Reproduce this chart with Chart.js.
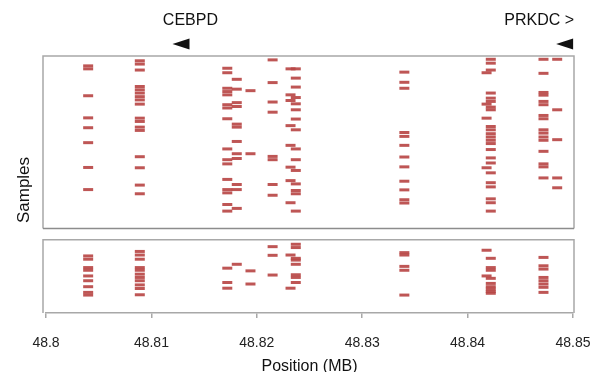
<!DOCTYPE html>
<html>
<head>
<meta charset="utf-8">
<style>
  html, body { margin: 0; padding: 0; background: #fff; }
</style>
</head>
<body>
<canvas id="samplesChart" width="598" height="372"></canvas>
<script src="https://cdn.jsdelivr.net/npm/chart.js"></script>
<script>
// genomic positions (MB) of the columns of marks
var positions = [48.8040, 48.8089, 48.8172, 48.8181, 48.8194, 48.8215, 48.8237, 48.8232, 48.8340, 48.8422, 48.8418, 48.8472, 48.8485];

// sample rows hit at each position, upper panel
var upperSamples = [
    [3.3, 4.3, 13.3, 20.7, 24, 29, 37.3, 44.7],
    [1.6, 2.7, 4.7, 10.2, 11.3, 12.4, 13.6, 14.7, 16.1, 20.8, 21.9, 23.8, 24.9, 33.7, 37.4, 43.2, 46.1],
    [4.1, 5.6, 10.8, 11.9, 13, 16.3, 17.4, 21, 31.1, 34.7, 36.1, 41.3, 44.7, 45.8, 49.7, 51.9],
    [7.8, 11.1, 15.6, 16.9, 22.8, 23.8, 28.6, 32.7, 34.3, 43, 44.7, 51],
    [11.6, 32.7],
    [1.3, 8.9, 15.4, 18.8, 33.6, 34.7, 43, 46.6],
    [4.3, 7.4, 10.4, 13.9, 16, 18, 21.1, 24.7, 31.1, 34.7, 38.3, 42.8, 45, 46.1, 51.9],
    [4.3, 13, 14.9, 23.3, 29.9, 37.2, 41.7, 49.1],
    [5.4, 8.8, 10.8, 25.6, 26.9, 29.9, 33.8, 37.1, 41.9, 44.8, 48.1, 49.2],
    [1.1, 2.4, 4.7, 12.4, 14.1, 15.2, 17.1, 18, 23.6, 24.7, 26, 27.1, 28.2, 29.3, 31.3, 34.1, 35.8, 39.1, 42.4, 43.8, 47.8, 49.1, 51.9],
    [5.6, 16.1, 20.8, 37.4],
    [1.1, 5.8, 12.2, 13.1, 15.2, 16.3, 19.9, 21, 24.7, 25.8, 27.1, 28.2, 31.9, 36.1, 37.1, 40.8],
    [1.1, 18, 28, 40.8, 44.1]
];

// sample rows hit at each position, lower panel
var lowerSamples = [
    [66.9, 68, 70.8, 71.7, 73.6, 75.2, 77.2, 79.1, 80],
    [65.4, 66.6, 68, 70.8, 71.7, 73, 74.1, 75.2, 76.6, 77.8, 79.9],
    [71, 75.8, 77.7],
    [69.7],
    [71.9, 76.3],
    [63.8, 66.7, 73.3],
    [63, 64.1, 67.7, 68.3, 69.7, 73.2, 74.1, 75.8],
    [66.6, 77.7],
    [65.8, 66.6, 70.4, 71.7, 80],
    [67.7, 70.8, 71.7, 74.4, 76.1, 77.2, 78, 78.8, 79.4],
    [65, 73.6],
    [67.4, 70.2, 71.3, 74.1, 75.2, 76.3, 77.4, 79.1],
    []
];

var xTicks = [48.8, 48.81, 48.82, 48.83, 48.84, 48.85];
var panels = [[0, 57.7], [61.5, 86]];   // sample row ranges of the two panels
var genes = ['CEBPD', 'PRKDC >'];
var geneLabelPos = [48.8137, 48.8468];
var geneArrowPos = [48.8120, 48.8484];  // tip of the left-pointing arrow

function toPoints(rows) {
    var pts = [];
    rows.forEach(function(col, i) {
        col.forEach(function(r) { pts.push({ x: positions[i], y: r }); });
    });
    return pts;
}

var markColor = 'rgba(184, 72, 70, 0.92)';
var fontFamily = '"Liberation Sans", Arial, sans-serif';

var panelFrame = {
    id: 'panelFrame',
    beforeDatasetsDraw: function(chart) {
        var ctx = chart.ctx, a = chart.chartArea, ys = chart.scales.y, xs = chart.scales.x;
        ctx.save();
        ctx.lineWidth = 1.5;
        panels.forEach(function(p, i) {
            var t = ys.getPixelForValue(p[0]), b = ys.getPixelForValue(p[1]);
            ctx.beginPath();
            ctx.strokeStyle = '#a8a8a8';
            ctx.moveTo(a.left - 3, b);
            ctx.lineTo(a.left - 3, t);
            ctx.lineTo(a.right + 1, t);
            ctx.lineTo(a.right + 1, b);
            ctx.stroke();
            if (i == 0) {
                ctx.beginPath();
                ctx.strokeStyle = '#8c8c8c';
                ctx.moveTo(a.left - 3, b);
                ctx.lineTo(a.right + 1, b);
                ctx.stroke();
            }
        });
        ctx.restore();

        // gene names and arrows above the plot
        ctx.save();
        ctx.fillStyle = '#111';
        ctx.font = '16px ' + fontFamily;
        ctx.textAlign = 'center';
        ctx.textBaseline = 'middle';
        genes.forEach(function(g, i) {
            ctx.fillText(g, xs.getPixelForValue(geneLabelPos[i]), 21);
            var tip = xs.getPixelForValue(geneArrowPos[i]);
            ctx.beginPath();
            ctx.moveTo(tip, 44);
            ctx.lineTo(tip + 17, 38.5);
            ctx.lineTo(tip + 17, 49.5);
            ctx.closePath();
            ctx.fill();
        });
        // y axis title
        ctx.font = '17px ' + fontFamily;
        ctx.translate(24, 190);
        ctx.rotate(-Math.PI / 2);
        ctx.fillText('Samples', 0, 0);
        ctx.restore();
    }
};

var ctx = document.getElementById('samplesChart').getContext('2d');
var samplesChart = new Chart(ctx, {
    type: 'scatter',
    data: {
        datasets: [{
            label: 'Upper',
            data: toPoints(upperSamples),
            pointStyle: 'line',
            radius: 5,
            borderWidth: 3,
            borderColor: markColor,
            backgroundColor: markColor
        }, {
            label: 'Lower',
            data: toPoints(lowerSamples),
            pointStyle: 'line',
            radius: 5,
            borderWidth: 3,
            borderColor: markColor,
            backgroundColor: markColor
        }]
    },
    options: {
        responsive: false,
        animation: false,
        events: [],
        layout: { padding: { left: 46, right: 25, top: 56, bottom: 1 } },
        plugins: { legend: { display: false }, tooltip: { enabled: false } },
        scales: {
            x: {
                type: 'linear',
                min: 48.8,
                max: 48.85,
                afterBuildTicks: function(scale) {
                    scale.ticks = xTicks.map(function(v) { return { value: v }; });
                },
                afterFit: function(scale) {
                    // let the layout padding alone decide the plot edges
                    scale.paddingLeft = 0;
                    scale.paddingRight = 0;
                },
                ticks: {
                    padding: 17,
                    color: '#222',
                    font: { family: fontFamily, size: 14 },
                    maxRotation: 0,
                    callback: function(v) { return String(parseFloat(v.toFixed(3))); }
                },
                grid: { drawOnChartArea: false, drawTicks: true, tickLength: 5, color: '#a8a8a8', lineWidth: 1.5 },
                border: { display: true, color: '#a8a8a8', width: 1.5 },
                title: {
                    display: true,
                    text: 'Position (MB)',
                    color: '#111',
                    font: { family: fontFamily, size: 16 },
                    padding: { top: -12, bottom: -5 }
                }
            },
            y: {
                display: false,
                reverse: true,
                min: 0,
                max: 86
            }
        }
    },
    plugins: [panelFrame]
});
</script>
</body>
</html>
